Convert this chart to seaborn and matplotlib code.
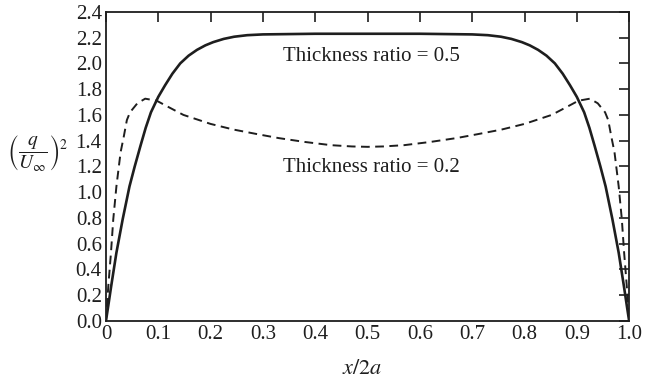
import numpy as np
import pandas as pd
import matplotlib
matplotlib.use("Agg")
import matplotlib.pyplot as plt
import seaborn as sns

# values: (q/U_inf)^2 against x/2a
x_thick = [0.0, 0.0045, 0.01, 0.02, 0.032, 0.045, 0.055, 0.066, 0.076, 0.086,
           0.1, 0.113, 0.127, 0.142, 0.158, 0.174, 0.19, 0.205, 0.225, 0.245, 0.27,
           0.3, 0.4, 0.5, 0.6, 0.7, 0.73, 0.755, 0.775, 0.795, 0.81, 0.826, 0.842,
           0.858, 0.873, 0.887, 0.9, 0.914, 0.924, 0.934, 0.945, 0.955,
           0.968, 0.98, 0.99, 0.9955, 1.0]
y_thick = [0.0, 0.12, 0.27, 0.53, 0.79, 1.045, 1.2, 1.36, 1.5, 1.62,
           1.74, 1.83, 1.92, 2.0, 2.06, 2.105, 2.14, 2.165, 2.19, 2.207, 2.219,
           2.225, 2.23, 2.23, 2.23, 2.225, 2.219, 2.207, 2.19, 2.165, 2.14, 2.105, 2.06,
           2.0, 1.92, 1.83, 1.74, 1.62, 1.5, 1.36, 1.2, 1.045,
           0.79, 0.53, 0.27, 0.12, 0.0]

x_thin = [0.0, 0.0045, 0.0096, 0.014, 0.02, 0.028, 0.034, 0.04, 0.046, 0.06,
          0.075, 0.097, 0.12, 0.148, 0.2, 0.244, 0.29, 0.33, 0.38, 0.43, 0.47,
          0.5, 0.53, 0.57, 0.62, 0.67, 0.71, 0.756, 0.8, 0.852, 0.88, 0.903,
          0.925, 0.94, 0.954, 0.96, 0.966, 0.972, 0.98, 0.986, 0.9904, 0.9955, 1.0]
y_thin = [0.0, 0.27, 0.53, 0.79, 1.045, 1.31, 1.43, 1.56, 1.62, 1.69,
          1.726, 1.71, 1.66, 1.6, 1.53, 1.486, 1.45, 1.42, 1.39, 1.365, 1.355,
          1.352, 1.355, 1.365, 1.39, 1.42, 1.45, 1.486, 1.53, 1.6, 1.66, 1.71,
          1.726, 1.69, 1.62, 1.56, 1.43, 1.31, 1.045, 0.79, 0.53, 0.27, 0.0]

x_ticks = [0, 0.1, 0.2, 0.3, 0.4, 0.5, 0.6, 0.7, 0.8, 0.9, 1.0]
x_labels = ["0", "0.1", "0.2", "0.3", "0.4", "0.5", "0.6", "0.7", "0.8", "0.9", "1.0"]
y_ticks = [0.0, 0.2, 0.4, 0.6, 0.8, 1.0, 1.2, 1.4, 1.6, 1.8, 2.0, 2.2, 2.4]

sns.set_style("white")
plt.rcParams["font.family"] = ["Liberation Serif", "DejaVu Serif"]
plt.rcParams["mathtext.fontset"] = "stix"

df_thick = pd.DataFrame({"x": x_thick, "y": y_thick})
df_thin = pd.DataFrame({"x": x_thin, "y": y_thin})

fig = plt.figure(figsize=(6.54, 3.83), dpi=100)
ax = fig.add_axes([0.162, 0.162, 0.800, 0.807])

ink = "#1e1e1e"
sns.lineplot(data=df_thick, x="x", y="y", ax=ax, color=ink, lw=1.9,
             estimator=None, sort=False)
sns.lineplot(data=df_thin, x="x", y="y", ax=ax, color=ink, lw=1.4,
             estimator=None, sort=False, linestyle=(0, (4.5, 2.8)))

ax.set_xlim(0, 1.0)
ax.set_ylim(0, 2.4)
ax.set_xticks(x_ticks)
ax.set_xticklabels(x_labels)
ax.set_yticks(y_ticks)
ax.set_yticklabels([f"{v:.1f}" for v in y_ticks])
ax.tick_params(direction="in", length=7, width=1.2, colors=ink,
               top=True, right=True, labelsize=15, pad=3)
for s in ax.spines.values():
    s.set_linewidth(1.3)
    s.set_color(ink)
    s.set_visible(True)

ax.text(0.507, 2.05, "Thickness ratio = 0.5", ha="center", va="center",
        fontsize=15, color=ink)
ax.text(0.507, 1.19, "Thickness ratio = 0.2", ha="center", va="center",
        fontsize=15, color=ink)

ax.set_xlabel("$x/2a$", fontsize=16, color=ink)
ax.xaxis.set_label_coords(0.49, -0.125)
ax.set_ylabel(r"$\left(\dfrac{q}{U_\infty}\right)^2$", fontsize=14,
              rotation=0, color=ink, va="center", ha="center")
ax.yaxis.set_label_coords(-0.13, 0.545)

plt.savefig("out.png", dpi=100)
plt.close()
